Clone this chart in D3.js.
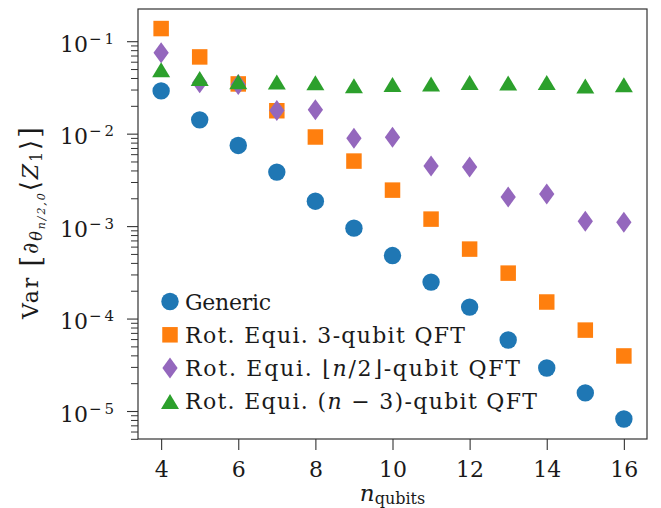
<!DOCTYPE html>
<html><head><meta charset="utf-8">
<script src="https://cdn.jsdelivr.net/npm/d3@7"></script>
<style>
body{margin:0;background:#fff}
svg{display:block}
text{font-family:'DejaVu Serif','Liberation Serif','Times New Roman',serif;fill:#1a1a1a}
</style>
</head><body>
<script>
// ---------------- data ----------------
const nQubits = [4, 5, 6, 7, 8, 9, 10, 11, 12, 13, 14, 15, 16];
const generic = [0.029, 0.0141, 0.00745, 0.00384, 0.00186, 0.00095, 0.00048, 0.000248, 0.000133, 5.86e-5, 2.92e-5, 1.57e-5, 8.2e-6];
const qft3 = [0.137, 0.0676, 0.0345, 0.0177, 0.0092, 0.00505, 0.00245, 0.00119, 0.000564, 0.00031, 0.000151, 7.5e-5, 3.94e-5];
const qftHalf = [0.0748, 0.0356, 0.034, 0.0178, 0.0181, 0.0089, 0.00916, 0.00446, 0.00435, 0.00206, 0.00222, 0.00113, 0.0011];
const qftNm3 = [0.0492, 0.0394, 0.0365, 0.0363, 0.0356, 0.0329, 0.0341, 0.0345, 0.0358, 0.0352, 0.0358, 0.0328, 0.0337];
const seriesNames = ["Generic", "Rot. Equi. 3-qubit QFT", "Rot. Equi. ⌊*n*/2⌋-qubit QFT", "Rot. Equi. (*n* − 3)-qubit QFT"];
const xTicks = [4, 6, 8, 10, 12, 14, 16];
const yMajorTicks = [1e-5, 1e-4, 1e-3, 1e-2, 1e-1];
const yTickExponents = ["−5", "−4", "−3", "−2", "−1"];

// ---------------- layout ----------------
const W = 661, H = 508;
const L = 138, R = 647, T = 9, B = 439;
const colors = ["#1f77b4", "#ff7f0e", "#9467bd", "#2ca02c"];
const FONT = "'DejaVu Serif','Liberation Serif','Times New Roman',serif";

const svg = d3.select("body").append("svg").attr("width", W).attr("height", H)
  .style("font-family", FONT);

const x = d3.scaleLinear().domain([3.4, 16.6]).range([L, R]);
const y = d3.scaleLog().domain([4.98e-6, 0.223]).range([B, T]);

// symbol types
const circleType = r => ({draw(c){c.moveTo(r,0);c.arc(0,0,r,0,2*Math.PI);}});
const squareType = s => ({draw(c){c.rect(-s/2,-s/2,s,s);}});
const diamondType = (w,h) => ({draw(c){c.moveTo(0,-h/2);c.lineTo(w/2,0);c.lineTo(0,h/2);c.lineTo(-w/2,0);c.closePath();}});
const triangleType = (w,h) => ({draw(c){c.moveTo(0,-h/2);c.lineTo(w/2,h/2);c.lineTo(-w/2,h/2);c.closePath();}});
const types = [circleType(8.7), squareType(15.5), diamondType(15.3, 21), triangleType(18, 15)];

const seriesValues = [generic, qft3, qftHalf, qftNm3];
const series = seriesValues.map((vals, i) => ({
  name: seriesNames[i], color: colors[i], type: types[i],
  points: nQubits.map((n, j) => ({n, v: vals[j]}))
}));

// ---------------- axes ----------------
const xAxis = svg.append("g").attr("transform", `translate(0,${B})`)
  .call(d3.axisBottom(x).tickValues(xTicks).tickSize(11).tickSizeOuter(0).tickFormat(d => d));
xAxis.select(".domain").remove();
xAxis.attr("font-family", FONT);
xAxis.selectAll(".tick line").attr("stroke", "#333").attr("stroke-width", 1.1);
xAxis.selectAll(".tick text").attr("y", 38).attr("dy", null)
  .style("font-size", "22px").style("font-family", FONT).attr("fill", "#1a1a1a");

// minor y ticks
const yMinor = [];
for (let e = -6; e <= -2; e++) for (let k = 2; k <= 9; k++) {
  const v = k * Math.pow(10, e);
  if (v >= y.domain()[0] && v <= 0.1) yMinor.push(v);
}
const yMinorAxis = svg.append("g").attr("transform", `translate(${L},0)`)
  .call(d3.axisLeft(y).tickValues(yMinor).tickSize(7).tickSizeOuter(0).tickFormat(""));
yMinorAxis.select(".domain").remove();
yMinorAxis.selectAll(".tick line").attr("stroke", "#333").attr("stroke-width", 1);

const yAxis = svg.append("g").attr("transform", `translate(${L},0)`)
  .call(d3.axisLeft(y).tickValues(yMajorTicks).tickSize(11).tickSizeOuter(0).tickFormat(""));
yAxis.select(".domain").remove();
yAxis.selectAll(".tick line").attr("stroke", "#333").attr("stroke-width", 1.1);
yAxis.selectAll(".tick text").remove();
yAxis.selectAll(".tick").each(function(d, i) {
  const g = d3.select(this);
  g.append("text").attr("x", -50).attr("y", 10).attr("text-anchor", "end")
    .style("font-family", FONT).style("font-size", "22px").text("10");
  g.append("text").attr("x", -49).attr("y", 2).attr("text-anchor", "start")
    .attr("textLength", 25).attr("lengthAdjust", "spacing")
    .style("font-family", FONT).style("font-size", "15px").text(yTickExponents[i]);
});

// frame
svg.append("rect").attr("x", L).attr("y", T).attr("width", R - L).attr("height", B - T)
  .attr("fill", "none").attr("stroke", "#333").attr("stroke-width", 1.2);

// ---------------- marks ----------------
const sym = d3.symbol();
series.forEach(s => {
  svg.append("g").selectAll("path").data(s.points).join("path")
    .attr("transform", d => `translate(${x(d.n)},${y(d.v)})`)
    .attr("d", sym.type(s.type)())
    .attr("fill", s.color);
});

// ---------------- legend ----------------
const legendWidths = [86, 280, 335, 352];
const leg = svg.append("g");
series.forEach((s, i) => {
  const ry = 301.5 + i * 33.3;
  leg.append("path").attr("transform", `translate(170,${ry})`).attr("d", sym.type(s.type)()).attr("fill", s.color);
  const t = leg.append("text").attr("x", 185).attr("y", ry + 8)
    .style("font-family", FONT).style("font-size", "22px")
    .attr("textLength", legendWidths[i]).attr("lengthAdjust", "spacing");
  s.name.split("*").forEach((part, k) => {
    if (!part) return;
    const ts = t.append("tspan").text(part);
    if (k % 2 === 1) ts.style("font-style", "italic");
  });
});

// ---------------- axis labels ----------------
const xl = svg.append("text").attr("x", (L + R) / 2).attr("y", 501).attr("text-anchor", "middle")
  .style("font-family", FONT);
xl.append("tspan").style("font-size", "23px").style("font-style", "italic").text("n");
xl.append("tspan").style("font-size", "16px").attr("dy", 3).text("qubits");

const yl = svg.append("text").attr("transform", "translate(38,223) rotate(-90)")
  .style("font-family", FONT)
  .attr("text-anchor", "middle").attr("textLength", 192).attr("lengthAdjust", "spacing");
yl.append("tspan").style("font-size", "22px").text("Var ");
yl.append("tspan").style("font-size", "28px").attr("dy", 2).text("[");
yl.append("tspan").style("font-size", "22px").style("font-style", "italic").attr("dy", -2).text("∂");
yl.append("tspan").style("font-size", "16px").style("font-style", "italic").attr("dy", 4).text("θ");
yl.append("tspan").style("font-size", "11px").style("font-style", "italic").attr("dy", 3).text("n/2,0");
yl.append("tspan").style("font-size", "26px").attr("dy", -6).text("⟨");
yl.append("tspan").style("font-size", "22px").style("font-style", "italic").attr("dy", -1).text("Z");
yl.append("tspan").style("font-size", "16px").attr("dy", 4).text("1");
yl.append("tspan").style("font-size", "26px").attr("dy", -3).text("⟩");
yl.append("tspan").style("font-size", "28px").text("]");
</script>
</body></html>
